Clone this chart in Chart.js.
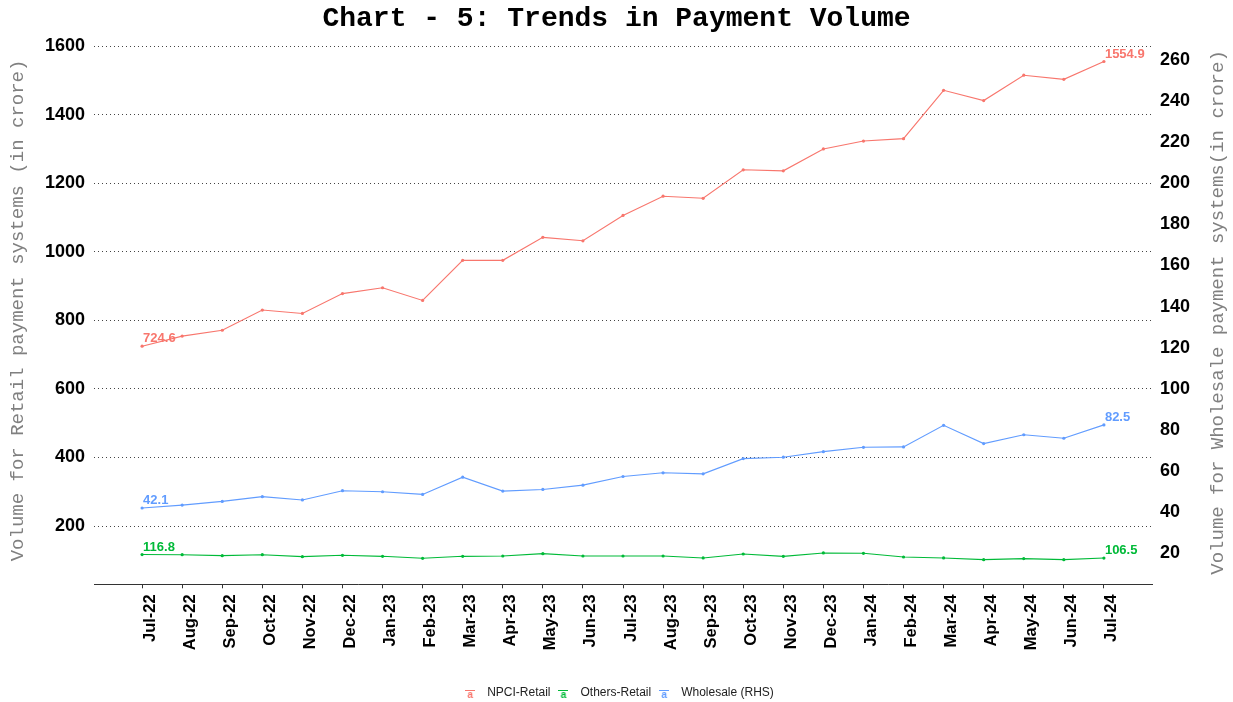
<!DOCTYPE html>
<html>
<head>
<meta charset="utf-8">
<title>Chart - 5: Trends in Payment Volume</title>
<script src="https://cdn.jsdelivr.net/npm/chart.js@4.4.1/dist/chart.umd.min.js"></script>
<style>
    html, body { margin: 0; padding: 0; background: #fff; }
    #wrap { width: 1233px; height: 702px; }
</style>
</head>
<body>
<div id="wrap"><canvas id="paymentChart" width="1233" height="702"></canvas></div>
<script>
// 数据
const months = ['Jul-22', 'Aug-22', 'Sep-22', 'Oct-22', 'Nov-22', 'Dec-22', 'Jan-23', 'Feb-23', 'Mar-23',
    'Apr-23', 'May-23', 'Jun-23', 'Jul-23', 'Aug-23', 'Sep-23', 'Oct-23', 'Nov-23', 'Dec-23',
    'Jan-24', 'Feb-24', 'Mar-24', 'Apr-24', 'May-24', 'Jun-24', 'Jul-24'];

const npciRetail = [724.6, 754, 771, 830, 820, 878, 895, 858, 975, 975, 1042, 1032, 1106,
    1162, 1156, 1239, 1236, 1300, 1323, 1330, 1471, 1441, 1515, 1503, 1554.9];

const othersRetail = [116.8, 116.3, 113.6, 116.3, 110.7, 114.6, 111.6, 105.8, 111.6, 112.6, 119.4, 112.6, 112.6,
    112.6, 106.8, 118.4, 111.6, 121.4, 120.4, 109.7, 106.8, 101.9, 104.9, 101.9, 106.5];

const wholesale = [42.1, 43.5, 45.3, 47.6, 46.0, 50.5, 50.0, 48.7, 57.1, 50.3, 51.1, 53.2, 57.4,
    59.2, 58.7, 66.1, 66.8, 69.5, 71.6, 71.8, 82.3, 73.4, 77.7, 76.0, 82.5];

const leftTicks = [200, 400, 600, 800, 1000, 1200, 1400, 1600];
const rightTicks = [20, 40, 60, 80, 100, 120, 140, 160, 180, 200, 220, 240, 260];

const seriesNames = ['NPCI-Retail', 'Others-Retail', 'Wholesale (RHS)'];
const seriesColors = ['#F8766D', '#00BA38', '#619CFF'];

const chartTitle = 'Chart - 5: Trends in Payment Volume';
const leftTitle = 'Volume for Retail payment systems (in crore)';
const rightTitle = 'Volume for Wholesale payment systems(in crore)';

// 坐标范围 (右轴 = 左轴 / 6)
const RATIO = 6;
const LEFT_MIN = 30;
const LEFT_MAX = 1627.6;
const X_PAD = 1.2;

const MONO = "'Courier New', 'Liberation Mono', monospace";
const SANS = "Arial, 'Liberation Sans', sans-serif";

const PLOT_BOTTOM = 584.3;
const PAD_BOTTOM = -7;

const toPoints = arr => arr.map((v, i) => ({ x: i, y: v }));

// 图例小图标
function makeKey(color) {
    const c = document.createElement('canvas');
    c.width = 10;
    c.height = 10;
    const g = c.getContext('2d');
    g.strokeStyle = color;
    g.lineWidth = 1;
    g.beginPath();
    g.moveTo(0, 2.5);
    g.lineTo(10, 2.5);
    g.stroke();
    g.fillStyle = color;
    g.font = 'bold 10px ' + SANS;
    g.textAlign = 'center';
    g.fillText('a', 5, 9.5);
    return c;
}
const keyIcons = seriesColors.map(makeKey);

// 首尾数值标签
const endLabels = {
    id: 'endLabels',
    afterDatasetsDraw(chart) {
        const ctx = chart.ctx;
        ctx.save();
        ctx.font = 'bold 13px ' + SANS;
        ctx.textAlign = 'left';
        ctx.textBaseline = 'alphabetic';
        chart.data.datasets.forEach((ds, di) => {
            const meta = chart.getDatasetMeta(di);
            ctx.fillStyle = ds.borderColor;
            [0, ds.data.length - 1].forEach(i => {
                const pt = meta.data[i];
                ctx.fillText(ds.data[i].y.toFixed(1), pt.x + 1, pt.y - 4);
            });
        });
        ctx.restore();
    }
};

// 右侧轴标题 (自下而上)
const rightAxisTitle = {
    id: 'rightAxisTitle',
    afterDraw(chart) {
        const { ctx, chartArea } = chart;
        const s = chart.scales.y1;
        ctx.save();
        ctx.translate(s.right - 15, (chartArea.top + chartArea.bottom) / 2 + 2);
        ctx.rotate(-Math.PI / 2);
        ctx.font = '19px ' + MONO;
        ctx.fillStyle = '#808080';
        ctx.textAlign = 'center';
        ctx.textBaseline = 'middle';
        ctx.fillText(rightTitle, 0, 0);
        ctx.restore();
    }
};

const ctx = document.getElementById('paymentChart').getContext('2d');
new Chart(ctx, {
    type: 'line',
    data: {
        datasets: [
            { label: seriesNames[0], data: toPoints(npciRetail), yAxisID: 'y' },
            { label: seriesNames[1], data: toPoints(othersRetail), yAxisID: 'y' },
            { label: seriesNames[2], data: toPoints(wholesale), yAxisID: 'y1' }
        ].map((ds, i) => Object.assign(ds, {
            borderColor: seriesColors[i],
            backgroundColor: seriesColors[i],
            borderWidth: 1.1,
            pointRadius: 1.6,
            pointBorderWidth: 0,
            tension: 0
        }))
    },
    options: {
        responsive: false,
        animation: false,
        layout: { padding: { left: 0, right: 0, top: 0, bottom: PAD_BOTTOM } },
        plugins: {
            title: {
                display: true,
                text: chartTitle,
                color: '#000',
                font: { family: MONO, size: 28, weight: 'bold' },
                padding: { top: 2, bottom: 1 }
            },
            legend: {
                position: 'bottom',
                labels: {
                    usePointStyle: true,
                    pointStyleWidth: 22,
                    boxHeight: 10,
                    padding: 2,
                    color: '#222',
                    font: { family: SANS, size: 12 },
                    generateLabels(chart) {
                        const items = Chart.defaults.plugins.legend.labels.generateLabels(chart);
                        items.forEach((it, i) => { it.pointStyle = keyIcons[i]; });
                        return items;
                    }
                }
            },
            tooltip: { enabled: false }
        },
        scales: {
            x: {
                type: 'linear',
                min: -X_PAD,
                max: months.length - 1 + X_PAD,
                afterBuildTicks(s) { s.ticks = months.map((m, i) => ({ value: i })); },
                afterFit(s) {
                    const lg = s.chart.legend;
                    s.height = s.chart.height - PAD_BOTTOM - (lg ? lg.height : 0) - PLOT_BOTTOM;
                },
                ticks: {
                    autoSkip: false,
                    maxRotation: 90,
                    minRotation: 90,
                    padding: 6,
                    labelOffset: 8,
                    color: '#000',
                    font: { family: SANS, size: 16.5, weight: 'bold' },
                    callback: v => months[v]
                },
                grid: { drawOnChartArea: false, drawTicks: true, tickLength: 4, color: '#333' },
                border: { display: true, color: '#333', width: 1 }
            },
            y: {
                position: 'left',
                min: LEFT_MIN,
                max: LEFT_MAX,
                afterBuildTicks(s) { s.ticks = leftTicks.map(v => ({ value: v })); },
                afterFit(s) { s.width = 94; },
                ticks: {
                    padding: 9,
                    color: '#000',
                    font: { family: SANS, size: 18, weight: 'bold' },
                    callback: v => String(v)
                },
                grid: { color: '#444', lineWidth: 1, drawTicks: false },
                border: { display: false, dash: [1, 3] },
                title: {
                    display: true,
                    text: leftTitle,
                    color: '#808080',
                    font: { family: MONO, size: 19 },
                    padding: { top: 7, bottom: 0 }
                }
            },
            y1: {
                position: 'right',
                min: LEFT_MIN / RATIO,
                max: LEFT_MAX / RATIO,
                afterBuildTicks(s) { s.ticks = rightTicks.map(v => ({ value: v })); },
                afterFit(s) { s.width = 81; },
                ticks: {
                    padding: 8,
                    color: '#000',
                    font: { family: SANS, size: 18, weight: 'bold' },
                    callback: v => String(v)
                },
                grid: { display: false, drawTicks: false },
                border: { display: false }
            }
        }
    },
    plugins: [endLabels, rightAxisTitle]
});
</script>
</body>
</html>
